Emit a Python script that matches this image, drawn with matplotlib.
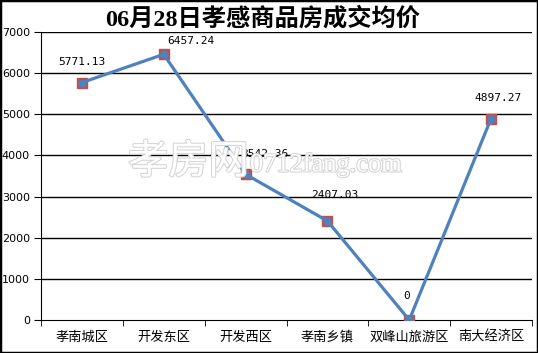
import matplotlib
matplotlib.use("Agg")
import matplotlib.pyplot as plt
import matplotlib.patheffects as pe
from matplotlib.patches import Rectangle

categories = ["孝南城区", "开发东区", "开发西区", "孝南乡镇", "双峰山旅游区", "南大经济区"]
prices = [5771.13, 6457.24, 3542.36, 2407.03, 0, 4897.27]
price_labels = ["5771.13", "6457.24", "3542.36", "2407.03", "0", "4897.27"]
y_ticks = [0, 1000, 2000, 3000, 4000, 5000, 6000, 7000]
title = "06月28日孝感商品房成交均价"

# label offsets in pixels (dx, dy) relative to each point
label_offsets = [(0, 21), (27, 13), (19, 20), (7, 26), (-3, 24), (7, 21)]

plt.rcParams["font.family"] = ["Noto Sans CJK SC", "DejaVu Sans"]

fig = plt.figure(figsize=(5.38, 3.53), dpi=100)
W, H = 538, 353
ax = fig.add_axes([41 / W, 1 - 320 / H, (532 - 41) / W, (320 - 32) / H])

# watermark
fig.text(128 / W, 1 - 162 / H, "孝房网", fontsize=29, color="white",
         va="center", ha="left", zorder=0,
         path_effects=[pe.withStroke(linewidth=1.5, foreground="#d4d4d4")])
fig.text(250 / W, 1 - 165 / H, "0712fang.com", fontsize=19, color="white",
         family="Liberation Serif", va="center", ha="left", zorder=0,
         path_effects=[pe.withStroke(linewidth=1.5, foreground="#d4d4d4")])

x = list(range(len(categories)))
ax.patch.set_alpha(0)
ax.plot(x, prices, color="#4F81BD", linewidth=2.3, zorder=4, solid_capstyle="round")
ax.plot(x, prices, linestyle="none", marker="s", markersize=7,
        markerfacecolor="#C0504D", markeredgecolor="#C0504D", zorder=3)
ax.plot(x, prices, linestyle="none", marker="o", markersize=5,
        markerfacecolor="#4F81BD", markeredgecolor="#4F81BD", zorder=5)

for xi, yi, lab, (dx, dy) in zip(x, prices, price_labels, label_offsets):
    ax.annotate(lab, (xi, yi), xytext=(dx, dy), textcoords="offset pixels",
                ha="center", va="center", fontsize=8, family="DejaVu Sans Mono",
                color="black", zorder=6)

ax.set_xlim(-0.5, len(categories) - 0.5)
ax.set_ylim(0, 7000)
ax.set_yticks(y_ticks)
ax.set_yticklabels([str(v) for v in y_ticks], fontsize=8, family="DejaVu Sans")
for v in y_ticks[1:]:
    ax.axhline(v, color="black", linewidth=1, zorder=1)

ax.set_xticks(x)
ax.set_xticklabels(categories, fontsize=9.5)
ax.set_xticks([i - 0.5 for i in range(len(categories) + 1)], minor=True)
ax.tick_params(axis="x", which="major", length=0, pad=8)
ax.tick_params(axis="x", which="minor", length=4, direction="out", color="black")
ax.tick_params(axis="y", length=5, direction="out", pad=3, color="black")

for side in ["top", "right"]:
    ax.spines[side].set_visible(False)
ax.spines["left"].set_color("black")
ax.spines["bottom"].set_color("black")

fig.text(263 / W, 1 - 19 / H, title, fontsize=17.5, fontweight="bold",
         family=["Liberation Serif", "Noto Sans CJK SC"], ha="center", va="center")

fig.patches.append(Rectangle((0, 0), 1, 1, transform=fig.transFigure, fill=False,
                             edgecolor="black", linewidth=2.5))

fig.savefig("out.png", dpi=100)
